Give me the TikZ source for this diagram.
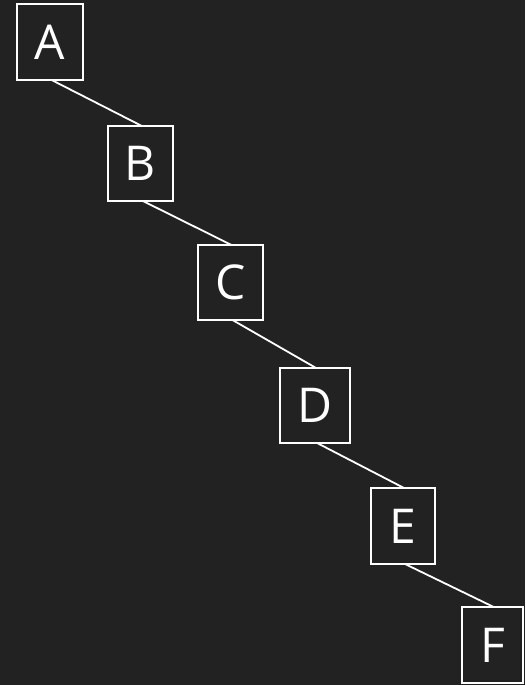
\documentclass[tikz,border=0pt]{standalone}
\usepackage{fontspec}
\setmainfont{Open Sans}
\definecolor{bg}{HTML}{222222}
\begin{document}
\begin{tikzpicture}[x=1pt,y=-1pt,
  box/.style={draw=white, line width=2pt, fill=bg, text=white, inner sep=0pt, outer sep=0pt,
    font=\fontsize{48}{48}\selectfont},
  link/.style={draw=white, line width=1.8pt}]
\fill[bg] (0,0) rectangle (525,685);
\useasboundingbox (0,0) rectangle (525,685);
\node[box, minimum width=66pt, minimum height=76pt] (A) at (50,42.2) {A};
\node[box, minimum width=65pt, minimum height=75pt] (B) at (140.5,163.3) {B};
\node[box, minimum width=65pt, minimum height=75pt] (C) at (230.5,282.5) {C};
\node[box, minimum width=70pt, minimum height=75pt] (D) at (314.7,405.3) {D};
\node[box, minimum width=64pt, minimum height=76pt] (E) at (403,526) {E};
\node[box, minimum width=61pt, minimum height=76pt] (F) at (492.7,645) {F};
\draw[link] ([xshift=2pt]A.south) -- ([xshift=1pt]B.north);
\draw[link] ([xshift=2pt]B.south) -- ([xshift=1pt]C.north);
\draw[link] ([xshift=2pt]C.south) -- ([xshift=1pt]D.north);
\draw[link] ([xshift=2pt]D.south) -- ([xshift=1pt]E.north);
\draw[link] ([xshift=2pt]E.south) -- ([xshift=1pt]F.north);
\end{tikzpicture}
\end{document}
